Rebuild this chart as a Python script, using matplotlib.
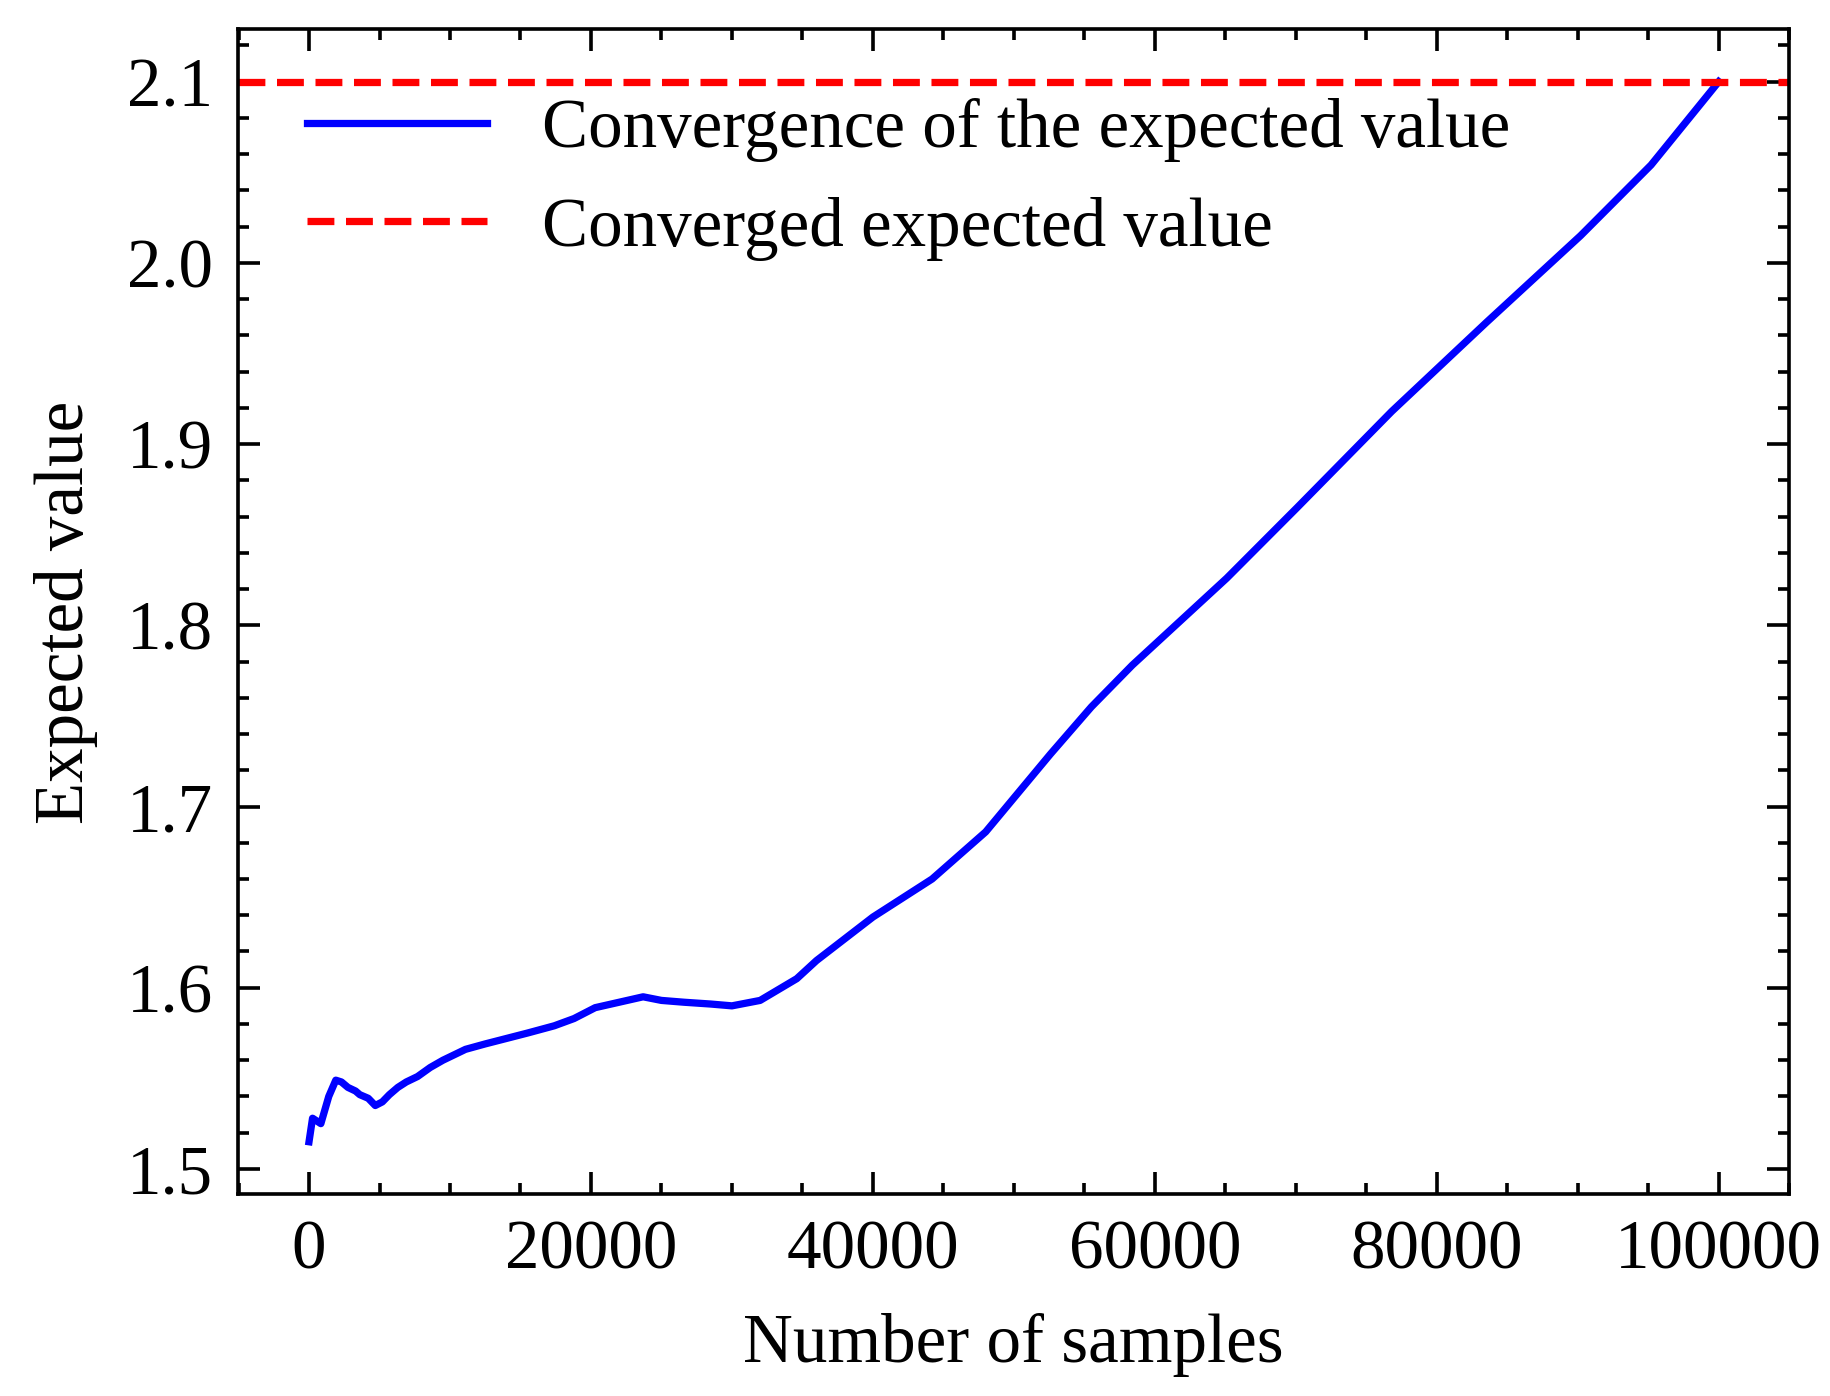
import numpy as np
import matplotlib
matplotlib.use('Agg')
import matplotlib.pyplot as plt
from matplotlib.ticker import AutoMinorLocator

samples = [0, 250, 840, 1400, 1900, 2300, 2760, 3300, 3600, 4200, 4700, 5200, 5700, 6300,
           6900, 7700, 8600, 9500, 11100, 12500, 14000, 15500, 17400, 18800, 20300, 22000,
           23700, 25000, 26600, 28500, 30000, 32000, 34600, 36000, 37500, 40000, 42000,
           44200, 48000, 52600, 55500, 58400, 65100, 70100, 76800, 83500, 90200, 95200, 100000]
expected = [1.515, 1.528, 1.525, 1.540, 1.549, 1.548, 1.545, 1.543, 1.541, 1.539, 1.535,
            1.537, 1.541, 1.545, 1.548, 1.551, 1.556, 1.560, 1.566, 1.569, 1.572, 1.575,
            1.579, 1.583, 1.589, 1.592, 1.595, 1.593, 1.592, 1.591, 1.590, 1.593, 1.605,
            1.615, 1.624, 1.639, 1.649, 1.660, 1.686, 1.729, 1.755, 1.778, 1.826, 1.865,
            1.918, 1.967, 2.015, 2.054, 2.100]
converged = 2.1

plt.rcParams['font.family'] = 'Liberation Serif'
plt.rcParams['font.size'] = 9.5

fig = plt.figure(figsize=(3.5, 2.67), dpi=523)
ax = fig.add_axes([202/1552, 1-1013/1184, 1315/1552, 988/1184])
ax.plot(samples, expected, color='blue', lw=1, label='Convergence of the expected value')
ax.axhline(converged, color='red', ls='--', lw=1, label='Converged expected value')
ax.set_xlim(-5020, 105000)
ax.set_ylim(1.486, 2.129)
ax.set_xticks([0, 20000, 40000, 60000, 80000, 100000])
ax.set_yticks([1.5, 1.6, 1.7, 1.8, 1.9, 2.0, 2.1])
ax.xaxis.set_minor_locator(AutoMinorLocator(4))
ax.yaxis.set_minor_locator(AutoMinorLocator(5))
ax.tick_params(which='both', direction='in', top=True, right=True, width=0.5)
ax.tick_params(which='major', length=3)
ax.tick_params(which='minor', length=1.5)
for s in ax.spines.values():
    s.set_linewidth(0.5)
ax.set_xlabel('Number of samples')
ax.set_ylabel('Expected value')
ax.legend(loc='upper left', frameon=False, handlelength=2.6, borderaxespad=0.6)
fig.savefig('out.png', dpi=523)
